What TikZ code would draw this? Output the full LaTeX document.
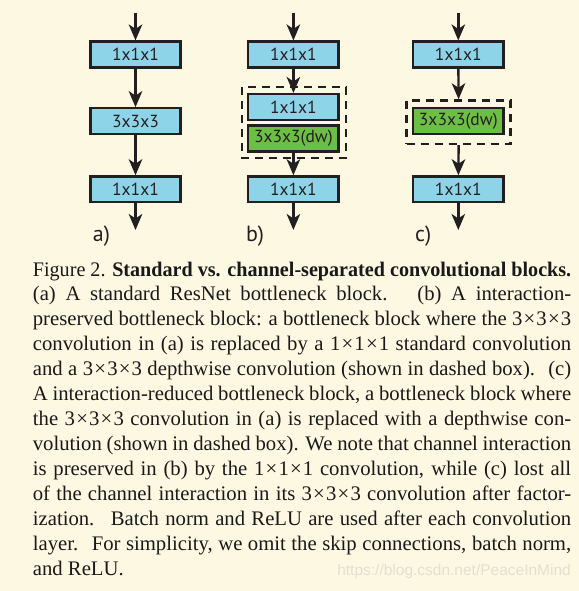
\documentclass[tikz,border=0pt]{standalone}
\usepackage{fontspec}
\usepackage{graphicx}
\usetikzlibrary{arrows.meta}
\newfontfamily\boxfont{PT Sans}
\newfontfamily\capfont{Liberation Serif}
\newfontfamily\wmfont{Liberation Sans}
\definecolor{bgcol}{HTML}{FCF8E2}
\definecolor{bluebox}{HTML}{8ED4E8}
\definecolor{greenbox}{HTML}{6DBE45}
\definecolor{inkcol}{HTML}{231F20}
\definecolor{wmcol}{HTML}{E3E0D0}
\tikzset{
  convbox/.style={draw=inkcol, line width=2.3bp, minimum width=90.2bp, minimum height=25.8bp,
    inner sep=0pt, font=\boxfont\fontsize{17.5bp}{20bp}\selectfont, text=inkcol},
  bluestep/.style={convbox, fill=bluebox},
  greenstep/.style={convbox, fill=greenbox},
  flow/.style={draw=inkcol, line width=2.4bp, -{Stealth[length=16bp,width=13.5bp,inset=4.5bp]}},
  dwframe/.style={draw=inkcol, line width=2.3bp, dash pattern=on 8bp off 6bp},
  sublabel/.style={anchor=base west, inner sep=0pt, font=\boxfont\fontsize{22bp}{26bp}\selectfont, text=inkcol},
  capline/.style={anchor=base west, inner sep=0pt, font=\capfont\fontsize{20.7bp}{24.9bp}\selectfont, text=black!90},
}
\newcommand{\tx}{\kern1.2bp×\kern1.2bp}
\newcommand{\cl}[1]{\makebox[538.3bp][s]{#1}}
\begin{document}
\begin{tikzpicture}[x=1bp,y=-1bp]
\fill[bgcol] (0,0) rectangle (579,591);
\useasboundingbox (0,0) rectangle (579,591);
% column a
\coordinate (ain) at (135.5,12.7);
\node[bluestep] (a1) at (135.5,54.5) {1x1x1};
\node[bluestep] (a2) at (135.5,121.2) {3x3x3};
\node[bluestep] (a3) at (135.5,189.3) {1x1x1};
\coordinate (aout) at (135.5,230);
\draw[flow] (ain) -- (a1);
\draw[flow] (a1) -- (a2);
\draw[flow] (a2) -- (a3);
\draw[flow] (a3) -- (aout);
\node[sublabel] (la) at (92.7,241) {a)};
% column b
\coordinate (bin) at (293.4,12.7);
\node[bluestep] (b1) at (293.4,54.5) {1x1x1};
\node[bluestep] (b2) at (293.4,107) {1x1x1};
\node[greenstep] (b3) at (293.4,138.5) {3x3x3(dw)};
\node[bluestep] (b4) at (293.4,189.3) {1x1x1};
\coordinate (bout) at (293.4,230);
\draw[dwframe] (241.7,87.1) rectangle (345.8,157.9);
\draw[flow] (bin) -- (b1);
\draw[flow] (b1) -- (b2);
\draw[flow] (b3) -- (b4);
\draw[flow] (b4) -- (bout);
\node[sublabel] (lb) at (246,241) {b)};
% column c
\coordinate (cin) at (458.3,12.7);
\node[bluestep] (c1) at (458.3,54.5) {1x1x1};
\node[greenstep] (c2) at (458.3,121.2) {3x3x3(dw)};
\node[bluestep] (c3) at (458.3,189.3) {1x1x1};
\coordinate (cout) at (458.3,230);
\node[dwframe, minimum width=104bp, minimum height=43.6bp, inner sep=0pt] (cf) at (458.6,122.2) {};
\draw[flow] (cin) -- (c1);
\draw[flow] (c1) -- (cf.north);
\draw[flow] (cf.south) -- (c3);
\draw[flow] (c3) -- (cout);
\node[sublabel] (lc) at (415,241) {c)};
% caption
\node[capline] (cap1) at (32.7,276) {\resizebox{538.3bp}{\height}{Figure 2. \textbf{Standard vs. channel-separated convolutional blocks.}}};
\node[capline] (cap2) at (32.7,300.92) {\cl{(a) A standard ResNet bottleneck block.~ (b) A interaction-}};
\node[capline] (cap3) at (32.7,325.84) {\cl{preserved bottleneck block: a bottleneck block where the 3\tx3\tx3}};
\node[capline] (cap4) at (32.7,350.76) {\cl{convolution in (a) is replaced by a 1\tx1\tx1 standard convolution}};
\node[capline] (cap5) at (32.7,375.68) {\cl{and a 3\tx3\tx3 depthwise convolution (shown in dashed box).~ (c)}};
\node[capline] (cap6) at (32.7,400.6) {\cl{A interaction-reduced bottleneck block, a bottleneck block where}};
\node[capline] (cap7) at (32.7,425.52) {\cl{the 3\tx3\tx3 convolution in (a) is replaced with a depthwise con-}};
\node[capline] (cap8) at (32.7,450.44) {\cl{volution (shown in dashed box). We note that channel interaction}};
\node[capline] (cap9) at (32.7,475.36) {\cl{is preserved in (b) by the 1\tx1\tx1 convolution, while (c) lost all}};
\node[capline] (cap10) at (32.7,500.28) {\cl{of the channel interaction in its 3\tx3\tx3 convolution after factor-}};
\node[capline] (cap11) at (32.7,525.2) {\cl{ization.~ Batch norm and ReLU are used after each convolution}};
\node[capline] (cap12) at (32.7,550.12) {\cl{layer.~ For simplicity, we omit the skip connections, batch norm,}};
\node[capline] (cap13) at (32.7,575.04) {and ReLU.};
\node[anchor=base east, inner sep=0pt, font=\wmfont\fontsize{15.5bp}{18bp}\selectfont, text=wmcol] (wm) at (571,575.04) {https://blog.csdn.net/PeaceInMind};
\end{tikzpicture}
\end{document}
